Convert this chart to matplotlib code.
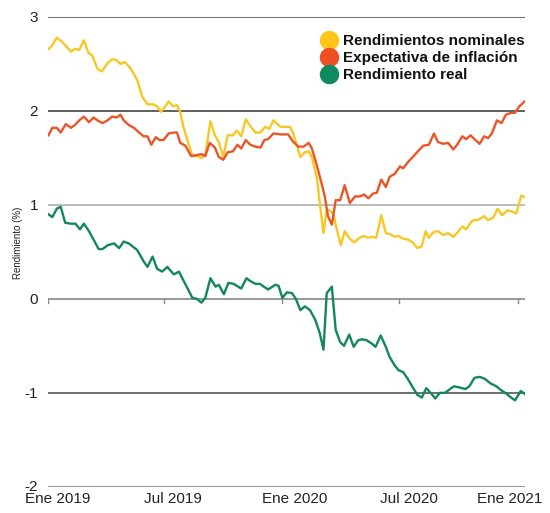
import pandas as pd
import matplotlib
matplotlib.use('Agg')
import matplotlib.pyplot as plt
import matplotlib.transforms as mtransforms
from matplotlib.lines import Line2D

plt.rcParams['font.family'] = ['Liberation Sans', 'DejaVu Sans']

# datos (dias desde 2019-01-01, rendimiento en %)
dias_nom = [1, 5, 14, 23, 36, 42, 49, 56, 63, 69, 77, 84, 93, 100, 107, 113, 120, 129, 139, 147,
            155, 164, 170, 176, 183, 188, 195, 201, 206, 211, 217, 225, 232, 239, 245, 253, 260, 266, 273, 280,
            288, 294, 301, 308, 315, 323, 331, 338, 345, 351, 362, 369, 377, 382, 393, 400, 406, 411, 419, 424,
            429, 434, 439, 444, 450, 456, 462, 470, 477, 483, 491, 498, 504, 511, 519, 526, 532, 540, 546, 553,
            561, 568, 575, 582, 588, 593, 600, 607, 615, 623, 631, 638, 645, 651, 659, 664, 670, 679, 685, 693,
            700, 707, 715, 722, 729, 737, 743]
nominales = [2.66, 2.68, 2.78, 2.73, 2.63, 2.66, 2.65, 2.75, 2.62, 2.59, 2.45, 2.42, 2.51, 2.55, 2.54, 2.50, 2.52, 2.45, 2.33, 2.15,
             2.07, 2.07, 2.05, 1.99, 2.05, 2.10, 2.05, 2.06, 1.99, 1.83, 1.69, 1.52, 1.52, 1.50, 1.53, 1.89, 1.74, 1.67, 1.51, 1.74,
             1.74, 1.79, 1.73, 1.91, 1.84, 1.77, 1.77, 1.83, 1.81, 1.90, 1.83, 1.83, 1.83, 1.76, 1.51, 1.56, 1.57, 1.51, 1.27, 0.98,
             0.70, 0.95, 0.94, 0.91, 0.73, 0.57, 0.72, 0.64, 0.60, 0.64, 0.67, 0.65, 0.66, 0.65, 0.89, 0.70, 0.69, 0.66, 0.67, 0.64,
             0.63, 0.60, 0.54, 0.56, 0.72, 0.65, 0.71, 0.72, 0.68, 0.70, 0.66, 0.71, 0.77, 0.74, 0.82, 0.84, 0.84, 0.88, 0.84, 0.86,
             0.96, 0.89, 0.94, 0.93, 0.91, 1.10, 1.08]

dias_inf = [1, 7, 14, 20, 28, 36, 42, 49, 56, 64, 71, 77, 85, 93, 100, 107, 113, 118, 126, 134,
            142, 149, 155, 161, 168, 174, 180, 188, 196, 201, 206, 214, 223, 232, 239, 245, 252, 260, 266, 273,
            280, 288, 295, 301, 308, 315, 323, 331, 337, 343, 351, 362, 374, 382, 390, 398, 406, 411, 419, 426,
            431, 436, 442, 448, 455, 462, 470, 478, 486, 492, 499, 506, 512, 519, 526, 532, 540, 548, 553, 561,
            568, 576, 584, 593, 601, 607, 615, 623, 631, 637, 645, 651, 658, 664, 672, 679, 685, 691, 699, 706,
            713, 721, 727, 734, 742]
inflacion = [1.74, 1.82, 1.82, 1.77, 1.86, 1.82, 1.85, 1.90, 1.94, 1.88, 1.93, 1.90, 1.87, 1.90, 1.94, 1.93, 1.96, 1.90, 1.85, 1.82,
             1.77, 1.73, 1.73, 1.64, 1.72, 1.69, 1.69, 1.76, 1.77, 1.77, 1.66, 1.63, 1.52, 1.53, 1.54, 1.52, 1.66, 1.61, 1.51, 1.48,
             1.56, 1.57, 1.64, 1.60, 1.69, 1.64, 1.62, 1.61, 1.69, 1.70, 1.76, 1.75, 1.75, 1.67, 1.62, 1.62, 1.66, 1.60, 1.41, 1.23,
             1.09, 0.88, 0.79, 1.05, 1.05, 1.21, 1.02, 1.09, 1.09, 1.11, 1.07, 1.12, 1.13, 1.27, 1.19, 1.30, 1.33, 1.41, 1.39, 1.46,
             1.51, 1.57, 1.63, 1.64, 1.76, 1.67, 1.65, 1.66, 1.59, 1.64, 1.73, 1.70, 1.74, 1.70, 1.65, 1.73, 1.71, 1.76, 1.90, 1.87,
             1.96, 1.98, 1.98, 2.05, 2.10]

dias_real = [1, 7, 14, 20, 27, 36, 43, 50, 56, 64, 72, 79, 85, 93, 103, 111, 118, 126, 139, 149,
             155, 163, 170, 178, 186, 196, 204, 216, 225, 232, 239, 245, 253, 261, 266, 274, 281, 289, 301, 309,
             315, 323, 330, 336, 343, 354, 359, 365, 372, 380, 386, 393, 400, 408, 416, 423, 429, 434, 442, 448,
             455, 461, 469, 476, 483, 489, 496, 503, 510, 518, 526, 532, 540, 546, 553, 560, 567, 575, 582, 589,
             597, 603, 610, 618, 624, 632, 639, 650, 656, 664, 672, 680, 689, 698, 705, 712, 721, 727, 736, 742]
real = [0.90, 0.87, 0.96, 0.98, 0.81, 0.80, 0.80, 0.74, 0.80, 0.72, 0.62, 0.53, 0.53, 0.57, 0.59, 0.54, 0.61, 0.59, 0.52, 0.40,
        0.34, 0.45, 0.32, 0.29, 0.34, 0.26, 0.29, 0.13, 0.01, 0.00, -0.04, 0.01, 0.22, 0.13, 0.15, 0.05, 0.17, 0.16, 0.11, 0.22,
        0.19, 0.16, 0.16, 0.13, 0.10, 0.15, 0.14, 0.01, 0.07, 0.06, 0.00, -0.12, -0.08, -0.12, -0.22, -0.36, -0.54, 0.06, 0.13, -0.33,
        -0.46, -0.50, -0.38, -0.51, -0.44, -0.43, -0.44, -0.47, -0.51, -0.39, -0.51, -0.62, -0.71, -0.76, -0.78, -0.85, -0.93, -1.02, -1.05, -0.95,
        -1.01, -1.06, -1.00, -1.00, -0.97, -0.93, -0.94, -0.96, -0.93, -0.84, -0.83, -0.85, -0.90, -0.93, -0.97, -1.00, -1.05, -1.08, -0.98, -1.01]

etiquetas = ['Rendimientos nominales', 'Expectativa de inflación', 'Rendimiento real']
fechas_ticks = ['2019-01-01', '2019-07-01', '2020-01-01', '2020-07-01', '2021-01-01']
textos_ticks = ['Ene 2019', 'Jul 2019', 'Ene 2020', 'Jul 2020', 'Ene 2021']

base = pd.Timestamp('2019-01-01')


def a_fechas(dias):
    return base + pd.to_timedelta(dias, unit='D')


col_nom = '#F5C823'
col_inf = '#EB5526'
col_real = '#13875C'

fig = plt.figure(figsize=(5.5, 5.13), dpi=100)
ax = fig.add_axes([0.087, 0.051, 0.868, 0.916])

# lineas horizontales de la cuadricula
colores_grid = {3: '#555555', 2: '#444444', 1: '#b0b0b0', 0: '#888888', -1: '#555555', -2: '#808080'}
for y, c in colores_grid.items():
    ax.axhline(y, color=c, lw=1.2, zorder=1)

ax.plot(a_fechas(dias_nom), nominales, color=col_nom, lw=1.7, zorder=3)
ax.plot(a_fechas(dias_inf), inflacion, color=col_inf, lw=1.7, zorder=4)
ax.plot(a_fechas(dias_real), real, color=col_real, lw=1.7, zorder=3)

# pequenas marcas bajo la linea del cero
for f in fechas_ticks:
    ax.plot([pd.Timestamp(f)] * 2, [0, -0.045], color='#888888', lw=1, zorder=1)

ax.set_ylim(-2, 3)
ax.set_xlim(base, base + pd.Timedelta(days=743))
for s in ax.spines.values():
    s.set_visible(False)

ax.set_yticks([-2, -1, 0, 1, 2, 3])
ax.set_yticklabels(['-2', '-1', '0', '1', '2', '3'])
ax.tick_params(axis='y', length=0, pad=7, labelsize=11, labelcolor='#222222')
# el -2 queda un poco por encima de su linea
ax.get_yticklabels()[0].set_va('bottom')
ax.get_yticklabels()[0].set_transform(ax.get_yticklabels()[0].get_transform()
                                      + mtransforms.ScaledTranslation(0, -0.07, fig.dpi_scale_trans))
ax.set_xticks(pd.to_datetime(fechas_ticks))
ax.set_xticklabels(textos_ticks)
ax.tick_params(axis='x', length=0, pad=4, labelsize=11, labelcolor='#222222')

desplaz = [10, 9, 12, 10, -8]
for lab, dx in zip(ax.get_xticklabels(), desplaz):
    lab.set_transform(lab.get_transform() + mtransforms.ScaledTranslation(dx / 100, 0, fig.dpi_scale_trans))

ax.set_ylabel('Rendimiento (%)', fontsize=7, color='#222222')
ax.yaxis.set_label_coords(-0.063, 0.52)
ax.yaxis.label.set_va('center')

manejadores = [Line2D([], [], ls='', marker='o', markersize=13, color=c)
               for c in ['#FFC61A', '#F04E23', '#0F8A5F']]
leg = ax.legend(manejadores, etiquetas, loc='upper right', bbox_to_anchor=(1.012, 0.976),
                frameon=False, handlelength=1.0, handletextpad=0.45, labelspacing=0.2,
                borderaxespad=0, prop={'weight': 'bold', 'size': 11})
for t in leg.get_texts():
    t.set_color('#111111')

fig.savefig('out.png', dpi=100)
